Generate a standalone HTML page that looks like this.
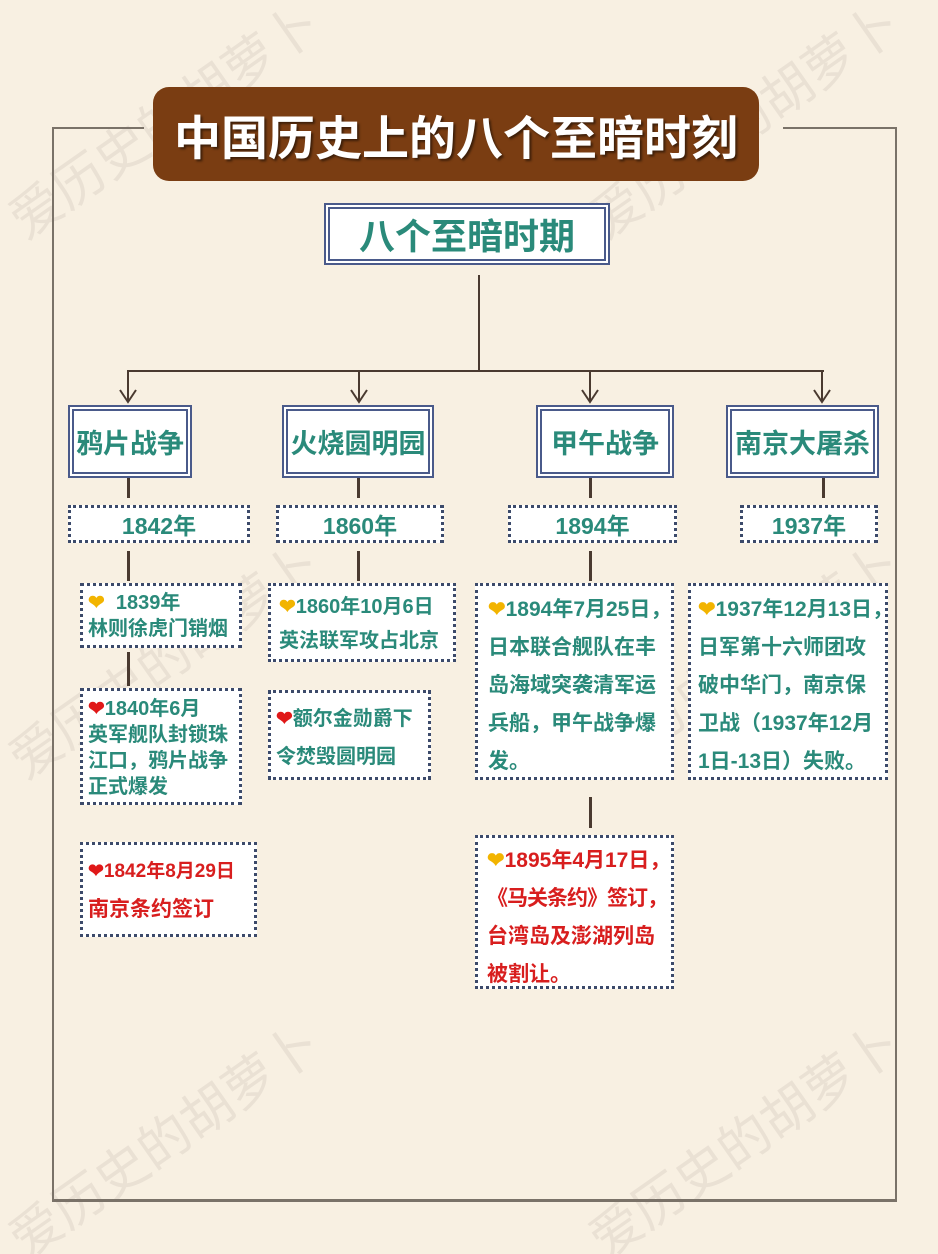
<!DOCTYPE html>
<html style="overflow:hidden;width:938px;height:1254px"><head><meta charset="utf-8"><style>
*{margin:0;padding:0;box-sizing:border-box}
body{width:938px;height:1254px;background:#f8f0e2;position:relative;overflow:hidden;font-family:"Liberation Sans","Noto Sans CJK SC",sans-serif;font-weight:bold}
.a{position:absolute}
.ln{position:absolute;background:#4a3a30}
.fr{position:absolute;background:#7a7268}
.cat{position:absolute;background:#fff;border:2px solid #4a5a8a;box-shadow:0 0 0 2px #fff,0 0 0 4px #4a5a8a;color:#2a8a7a;font-size:27px;display:flex;align-items:center;justify-content:center;white-space:nowrap}
.yr{position:absolute;background:#fff;border:3px dotted #3c4a6a;color:#2a8a7a;font-size:23px;display:flex;align-items:center;justify-content:center}
.ev{position:absolute;background:#fff;border:3px dotted #3c4a6a;color:#2a8a7a;font-size:20px;padding:6px 6px;line-height:26px;white-space:nowrap}
.r{color:#d81e1e}
.hy{color:#f2b400}
.hr{color:#e01818}
.wmw{position:absolute;left:0;top:0;width:938px;height:1254px;overflow:hidden}
.wm{position:absolute;color:rgba(160,150,140,0.16);font-size:52px;font-weight:normal;transform:rotate(-35deg);white-space:nowrap}
</style></head><body>
<div class="wmw">
<div class="wm" style="left:-20px;top:80px">爱历史的胡萝卜</div>
<div class="wm" style="left:560px;top:80px">爱历史的胡萝卜</div>
<div class="wm" style="left:-20px;top:620px">爱历史的胡萝卜</div>
<div class="wm" style="left:560px;top:620px">爱历史的胡萝卜</div>
<div class="wm" style="left:-20px;top:1100px">爱历史的胡萝卜</div>
<div class="wm" style="left:560px;top:1100px">爱历史的胡萝卜</div>
</div>

<div class="fr" style="left:52px;top:127px;width:92px;height:2px"></div>
<div class="fr" style="left:783px;top:127px;width:114px;height:2px"></div>
<div class="fr" style="left:52px;top:127px;width:2px;height:1075px"></div>
<div class="fr" style="left:895px;top:127px;width:2px;height:1075px"></div>
<div class="fr" style="left:52px;top:1199px;width:845px;height:3px"></div>

<div class="a" style="left:153px;top:87px;width:606px;height:94px;background:#7a3d12;border-radius:16px;color:#fff;font-size:47px;display:flex;align-items:center;justify-content:center;text-shadow:2px 2px 2px rgba(0,0,0,.5)">中国历史上的八个至暗时刻</div>

<div class="cat" style="left:328px;top:207px;width:278px;height:54px;font-size:36px">八个至暗时期</div>

<div class="ln" style="left:478px;top:275px;width:2px;height:96px"></div>
<div class="ln" style="left:127px;top:370px;width:697px;height:2px"></div>
<svg class="a" style="left:0;top:0" width="938" height="420">
<g stroke="#4a3a30" stroke-width="2" fill="none">
<path d="M128 371V402M120 390L128 402L136 390"/>
<path d="M359 371V402M351 390L359 402L367 390"/>
<path d="M590 371V402M582 390L590 402L598 390"/>
<path d="M822 371V402M814 390L822 402L830 390"/>
</g></svg>

<div class="cat" style="left:72px;top:409px;width:116px;height:65px">鸦片战争</div>
<div class="cat" style="left:286px;top:409px;width:144px;height:65px">火烧圆明园</div>
<div class="cat" style="left:540px;top:409px;width:130px;height:65px">甲午战争</div>
<div class="cat" style="left:730px;top:409px;width:145px;height:65px">南京大屠杀</div>

<div class="ln" style="left:127px;top:478px;width:3px;height:20px"></div>
<div class="ln" style="left:357px;top:478px;width:3px;height:20px"></div>
<div class="ln" style="left:589px;top:478px;width:3px;height:20px"></div>
<div class="ln" style="left:822px;top:478px;width:3px;height:20px"></div>

<div class="yr" style="left:68px;top:505px;width:182px;height:38px">1842年</div>
<div class="yr" style="left:276px;top:505px;width:168px;height:38px">1860年</div>
<div class="yr" style="left:508px;top:505px;width:169px;height:38px">1894年</div>
<div class="yr" style="left:740px;top:505px;width:138px;height:38px">1937年</div>

<div class="ln" style="left:127px;top:551px;width:3px;height:30px"></div>
<div class="ln" style="left:357px;top:551px;width:3px;height:30px"></div>
<div class="ln" style="left:589px;top:551px;width:3px;height:30px"></div>

<div class="ev" style="left:80px;top:583px;width:162px;height:65px;padding:4px 5px;line-height:26px"><span class="hy">❤</span>&nbsp; 1839年<br>林则徐虎门销烟</div>
<div class="ln" style="left:127px;top:652px;width:3px;height:34px"></div>
<div class="ev" style="left:80px;top:688px;width:162px;height:117px;line-height:26px;padding:5px 5px"><span class="hr">❤</span>1840年6月<br>英军舰队封锁珠<br>江口，鸦片战争<br>正式爆发</div>
<div class="ev r" style="left:80px;top:842px;width:177px;height:95px;line-height:38px;padding:8px 5px;font-size:19px"><span class="hr">❤</span>1842年8月29日<br><span style="font-size:21px">南京条约签订</span></div>

<div class="ev" style="left:268px;top:583px;width:188px;height:79px;line-height:34px;padding:4px 8px"><span class="hy">❤</span>1860年10月6日<br>英法联军攻占北京</div>
<div class="ev" style="left:268px;top:690px;width:163px;height:90px;line-height:38px;padding:7px 5px"><span class="hr">❤</span>额尔金勋爵下<br>令焚毁圆明园</div>

<div class="ev" style="left:475px;top:583px;width:199px;height:197px;line-height:38px;padding:5px 10px;font-size:21px"><span class="hy">❤</span>1894年7月25日，<br>日本联合舰队在丰<br>岛海域突袭清军运<br>兵船，甲午战争爆<br>发。</div>
<div class="ln" style="left:589px;top:797px;width:3px;height:31px"></div>
<div class="ev r" style="left:475px;top:835px;width:199px;height:154px;line-height:38px;padding:4px 9px;font-size:21px"><span class="hy">❤</span>1895年4月17日，<br><span style="letter-spacing:-1px">《马关条约》签订，</span><br>台湾岛及澎湖列岛<br>被割让。</div>

<div class="ev" style="left:688px;top:583px;width:200px;height:197px;line-height:38px;padding:5px 7px;font-size:21px"><span class="hy">❤</span>1937年12月13日，<br>日军第十六师团攻<br>破中华门，南京保<br>卫战（1937年12月<br>1日-13日）失败。</div>
</body></html>
